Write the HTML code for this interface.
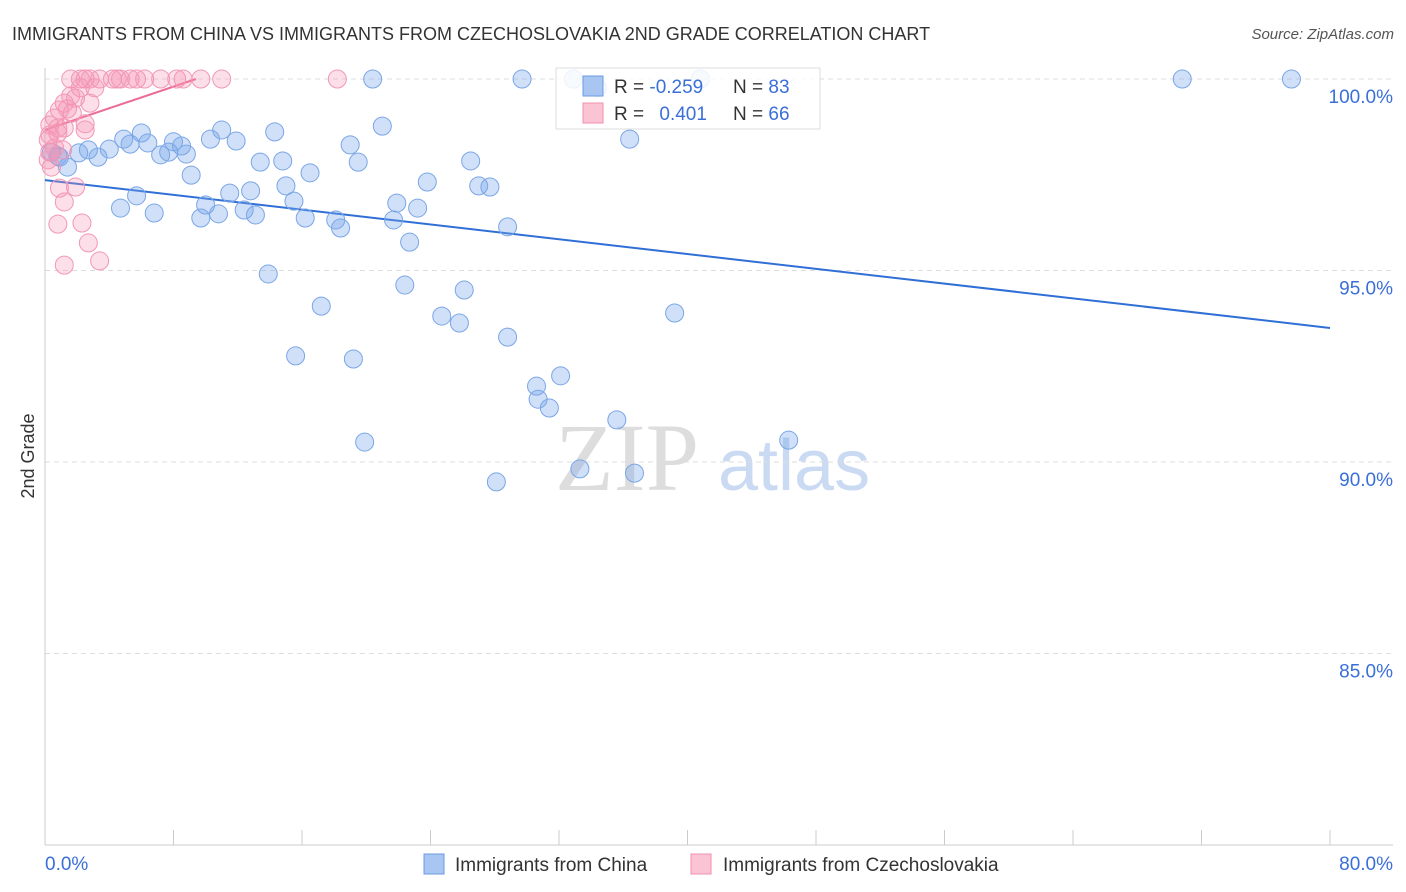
<!DOCTYPE html>
<html><head><meta charset="utf-8"><style>
body{margin:0;background:#fff;font-family:"Liberation Sans",sans-serif}
svg{display:block}
</style></head><body>
<svg id="c" width="1406" height="892" xmlns="http://www.w3.org/2000/svg" font-family="Liberation Sans, sans-serif">
<text x="12" y="40" font-size="18" fill="#333">IMMIGRANTS FROM CHINA VS IMMIGRANTS FROM CZECHOSLOVAKIA 2ND GRADE CORRELATION CHART</text>
<text x="1394" y="39" font-size="15" fill="#555" font-style="italic" text-anchor="end">Source: ZipAtlas.com</text>
<text transform="translate(34,456) rotate(-90)" font-size="18" fill="#333" text-anchor="middle">2nd Grade</text>
<g><text x="555" y="490" font-size="96" fill="#ddd" font-family="Liberation Serif, serif">ZIP</text><text x="718" y="490" font-size="72" fill="#c9daf2">atlas</text></g>
<g id="grid"></g><g id="axes"></g><g id="lines"></g><g id="pts"></g>
<g>
<rect x="556" y="68" width="264" height="61" fill="#fff" fill-opacity="0.85" stroke="#ddd"/>
<rect x="583" y="76" width="20" height="20" fill="#a9c6f3" stroke="#6a9be0"/>
<rect x="583" y="103" width="20" height="20" fill="#fbc4d4" stroke="#f08fb0"/>
<text x="614" y="93" font-size="19" fill="#333">R = <tspan fill="#3a6fd8">-0.259</tspan></text>
<text x="733" y="93" font-size="19" fill="#333">N = <tspan fill="#3a6fd8">83</tspan></text>
<text x="614" y="120" font-size="19" fill="#333">R = <tspan fill="#3a6fd8" dx="10">0.401</tspan></text>
<text x="733" y="120" font-size="19" fill="#333">N = <tspan fill="#3a6fd8">66</tspan></text>
</g>
<g>
<rect x="424" y="854" width="20" height="20" fill="#a9c6f3" stroke="#6a9be0"/>
<text x="455" y="871" font-size="19" fill="#333">Immigrants from China</text>
<rect x="691" y="854" width="20" height="20" fill="#fbc4d4" stroke="#f08fb0"/>
<text x="723" y="871" font-size="19" fill="#333">Immigrants from Czechoslovakia</text>
</g>
</svg>
<script>
const chinaX=[20.4,29.7,32.9,34.4,40.8,70.8,77.6,36.4,21.0,19.0,14.3,11.0,10.3,11.9,6.0,4.9,5.3,6.4,8.0,8.5,7.7,8.8,7.2,4.0,3.3,2.7,2.1,0.9,0.4,1.4,0.8,13.4,14.8,19.5,26.5,16.5,9.1,15.0,11.5,12.8,23.8,27.0,27.7,5.7,15.5,21.9,23.2,4.7,6.8,10.0,9.7,10.8,12.4,13.1,16.2,18.1,18.4,21.7,28.8,22.7,13.9,22.4,26.1,17.2,24.7,25.8,39.2,28.8,15.6,19.2,32.1,30.6,30.7,31.4,35.6,46.3,19.9,33.3,36.7,28.1];
const chinaY=[100,100,100,99.77,100,100,100,98.43,98.77,98.28,98.62,98.67,98.43,98.38,98.59,98.43,98.30,98.33,98.36,98.25,98.09,98.04,98.02,98.17,97.96,98.15,98.07,97.96,98.09,97.70,97.99,97.83,97.86,97.83,97.86,97.55,97.49,97.21,97.02,97.08,97.31,97.21,97.18,96.95,96.81,96.76,96.63,96.63,96.50,96.71,96.37,96.48,96.58,96.45,96.37,96.32,96.11,96.32,96.14,95.74,94.91,94.62,94.49,94.07,93.81,93.63,93.89,93.26,92.77,92.69,92.25,91.98,91.64,91.41,91.10,90.57,90.52,89.82,89.71,89.48];
const czX=[1.6,2.2,2.5,2.8,3.4,4.2,4.5,4.7,5.3,5.7,6.2,7.2,8.2,8.6,9.7,11.0,18.2,3.1,2.2,1.6,1.2,2.8,0.9,1.4,0.6,2.5,1.2,0.8,0.3,0.2,0.6,0.3,0.2,0.4,1.9,0.9,1.2,2.3,0.8,2.7,3.4,1.2,1.9,1.7,2.5,0.3,0.8,1.1];
const czY=[100,100,100,100,100,100,100,100,100,100,100,100,100,100,100,100,100,99.77,99.77,99.56,99.37,99.37,99.19,99.22,98.98,98.83,98.72,98.59,98.54,98.41,98.20,98.09,97.89,97.70,97.18,97.15,96.79,96.24,96.21,95.72,95.25,95.14,99.50,99.11,98.67,98.80,98.72,98.15];
const trendChina=[0,97.36,80,93.50];
const trendCz=[0,98.67,9.4,100];
const yTicks=[100,95,90,85];
const yTickLabels=["100.0%","95.0%","90.0%","85.0%"];
const xTicks=[0,8,16,24,32,40,48,56,64,72,80];
const NS='http://www.w3.org/2000/svg';
const sx=v=>45+v*1285/80, sy=v=>79+(100-v)*191.5/5;
function mk(p,t,a){const e=document.createElementNS(NS,t);for(const k in a)e.setAttribute(k,a[k]);document.getElementById(p).appendChild(e);return e;}
yTicks.forEach((t,i)=>{
 const g=mk('grid','line',{x1:45,x2:1393,y1:sy(t),y2:sy(t),stroke:'#ddd','stroke-dasharray':'5,4'});
 
 
 const l=mk('grid','text',{x:1393,y:sy(t)+24,'font-size':19,fill:'#3a6fd8','text-anchor':'end'});
 l.textContent=yTickLabels[i];
 
 
});
const ya=mk('axes','line',{x1:45,x2:45,y1:68,y2:845,stroke:'#ccc'});


const xa=mk('axes','line',{x1:45,x2:1393,y1:845,y2:845,stroke:'#ccc'});


xTicks.forEach(t=>{const e=mk('axes','line',{x1:sx(t),x2:sx(t),y1:830,y2:845,stroke:'#ccc'});
 
 });
const x0=mk('axes','text',{x:45,y:870,'font-size':19,fill:'#3a6fd8'});x0.textContent='0.0%';


const x1=mk('axes','text',{x:1393,y:870,'font-size':19,fill:'#3a6fd8','text-anchor':'end'});x1.textContent='80.0%';


function pts(X,Y,f,s,n){X.forEach((x,i)=>{const c=mk('pts','circle',{cx:sx(x),cy:sy(Y[i]),r:9,fill:f,stroke:s,'stroke-width':1});
 
 });}
pts(chinaX,chinaY,'rgba(120,165,235,0.35)','#7aa6e6','china-point');
pts(czX,czY,'rgba(245,150,180,0.3)','#f297b6','czechoslovakia-point');
const t1=mk('lines','line',{x1:sx(trendChina[0]),y1:sy(trendChina[1]),x2:sx(trendChina[2]),y2:sy(trendChina[3]),stroke:'#2f6fd6','stroke-width':2});


const t2=mk('lines','line',{x1:sx(trendCz[0]),y1:sy(trendCz[1]),x2:sx(trendCz[2]),y2:sy(trendCz[3]),stroke:'#ec6b94','stroke-width':2});


</script>
</body></html>
